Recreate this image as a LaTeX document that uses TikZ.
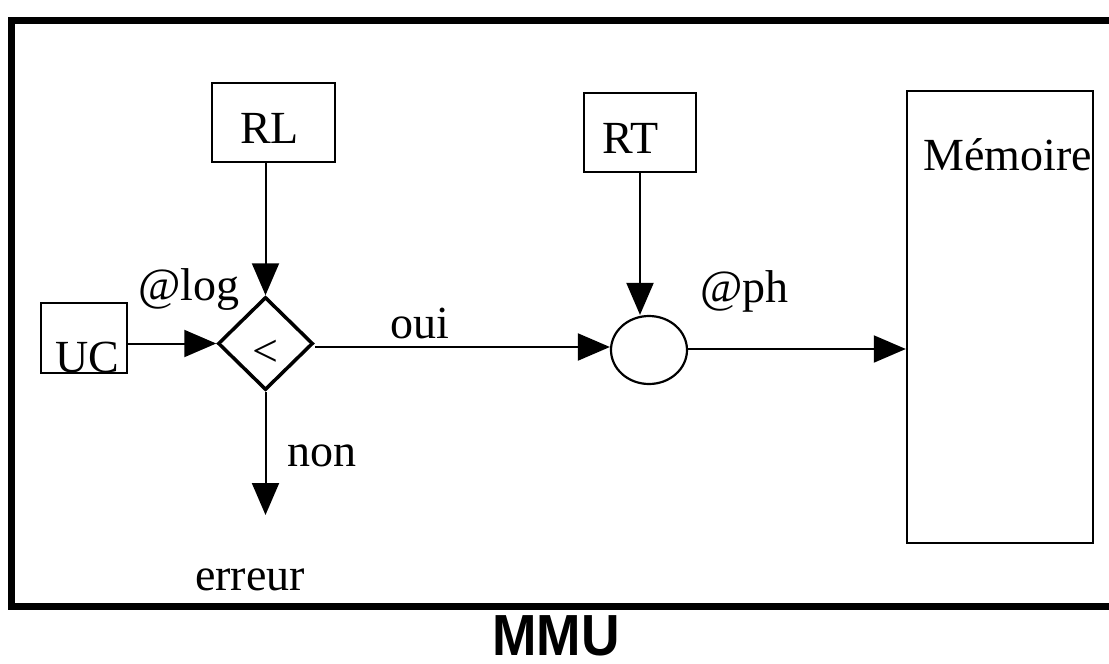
\documentclass[tikz,border=0pt]{standalone}
\usepackage{fontspec}
\setmainfont{Liberation Serif}
\newfontfamily\titlefont{Liberation Sans}
\usetikzlibrary{arrows.meta,shapes.geometric}

\tikzset{
  txt/.style={anchor=base west, inner sep=0pt, font=\fontsize{46}{50}\selectfont},
  regbox/.style={draw, line width=2.4pt, inner sep=0pt},
  arr/.style={line width=2pt, -{Triangle[length=32pt, width=27pt]}},
}

\begin{document}
\begin{tikzpicture}[x=1pt, y=-1pt]
  \useasboundingbox (0,0) rectangle (1109,664);

  % outer frame of the unit (runs past the right edge)
  \draw[line width=7pt] (1130,20.5) -- (11,20.5) -- (11,606.5) -- (1130,606.5);

  % registers and memory
  \node[regbox, minimum width=123pt, minimum height=79pt] (rl) at (273.5,122.5) {};
  \node[txt] (rltext) at (240,143) {RL};
  \node[regbox, minimum width=112pt, minimum height=79pt] (rt) at (640,132.5) {};
  \node[txt] (rttext) at (602,153) {RT};
  \node[regbox, minimum width=86pt, minimum height=70pt] (uc) at (84,338) {};
  \node[txt] (uctext) at (55,372) {UC};
  \node[regbox, minimum width=186pt, minimum height=452pt] (mem) at (1000,317) {};
  \node[txt] (memtext) at (923,170) {Mémoire};

  % comparator and adder
  \node[draw, diamond, line width=3.5pt, inner sep=0pt,
        minimum width=95pt, minimum height=93pt] (dia) at (265.5,343.5) {};
  \node[txt] (lt) at (252,366) {<};
  \node[draw, ellipse, line width=2.2pt, inner sep=0pt,
        minimum width=76pt, minimum height=68pt] (circ) at (649,350) {};

  \coordinate (err) at (265.5,515);

  % connectors
  \draw[arr] (uc.east |- dia.west) -- (dia.west);
  \draw[arr] (rl.south -| dia.north) -- (dia.north);
  \draw[arr] (dia.east |- 0,347) -- (circ.west |- 0,347);
  \draw[arr] (rt.south) -- (circ.north -| rt.south);
  \draw[arr] (circ.east |- 0,349) -- (mem.west |- 0,349);
  \draw[arr] (dia.south) -- (err);

  % labels
  \node[txt] (atlog) at (138,300) {@log};
  \node[txt] (oui) at (390,338) {oui};
  \node[txt] (atph) at (700,302) {@ph};
  \node[txt] (non) at (287,466) {non};
  \node[txt] (erreur) at (195,590) {erreur};

  \node[inner sep=0pt, anchor=base, font=\titlefont\bfseries\fontsize{58}{60}\selectfont,
        xscale=0.92] (mmu) at (556,655) {MMU};
\end{tikzpicture}
\end{document}
